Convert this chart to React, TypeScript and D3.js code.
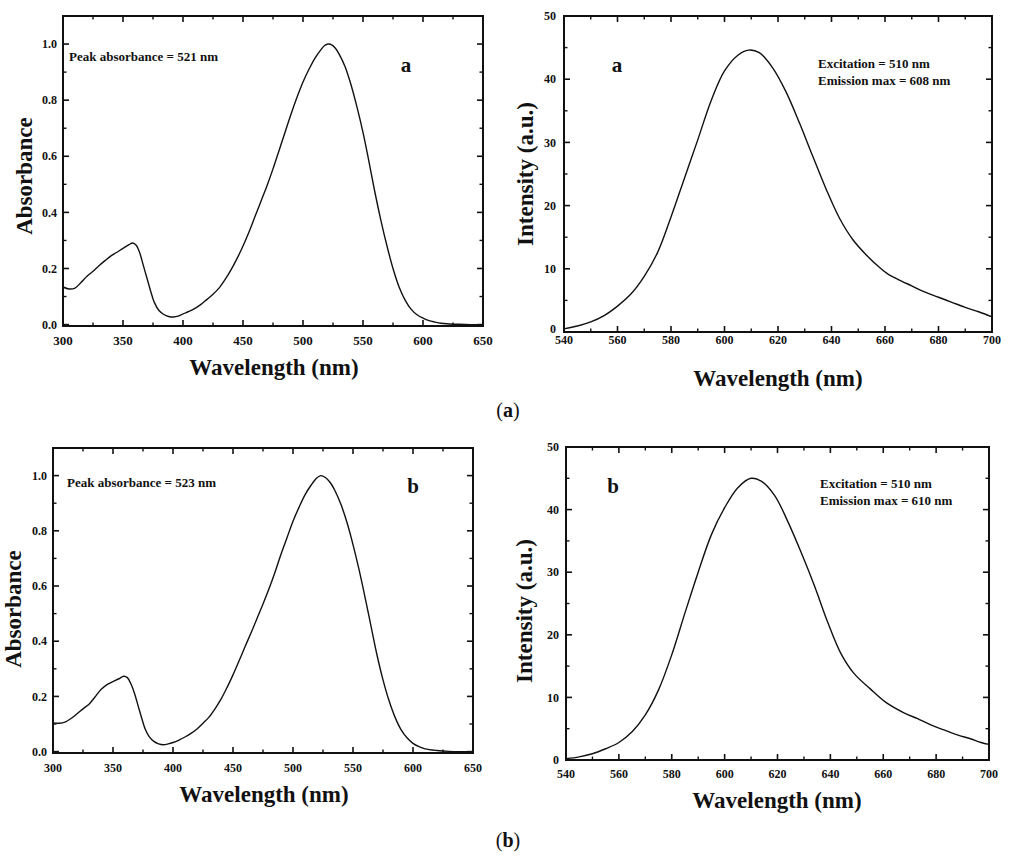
import React from 'react';
import * as d3 from 'd3';

// absorbance spectrum, sample a
const absAWl = [300, 305, 310, 315, 320, 325, 330, 335, 340, 345, 350, 355, 358, 361, 364, 367, 370, 373, 376, 380, 384, 388, 392, 396, 400, 405, 410, 415, 420, 425, 430, 435, 440, 445, 450, 455, 460, 465, 470, 475, 480, 485, 490, 495, 500, 505, 510, 515, 518, 521, 524, 527, 530, 535, 540, 545, 550, 555, 560, 565, 570, 575, 580, 585, 590, 595, 600, 605, 610, 615, 620, 630, 640, 650];
const absAVal = [0.134, 0.127, 0.13, 0.15, 0.172, 0.19, 0.21, 0.228, 0.245, 0.258, 0.272, 0.285, 0.291, 0.283, 0.255, 0.21, 0.165, 0.12, 0.08, 0.05, 0.036, 0.029, 0.027, 0.03, 0.038, 0.047, 0.058, 0.072, 0.09, 0.108, 0.13, 0.16, 0.195, 0.235, 0.28, 0.33, 0.385, 0.44, 0.495, 0.555, 0.62, 0.685, 0.75, 0.81, 0.865, 0.91, 0.95, 0.98, 0.995, 1.0, 0.997, 0.985, 0.965, 0.92, 0.855, 0.775, 0.685, 0.58, 0.47, 0.37, 0.28, 0.2, 0.135, 0.088, 0.055, 0.035, 0.023, 0.014, 0.009, 0.005, 0.003, 0.001, 0.0, 0.0];

// emission spectrum, sample a
const emAWl = [540, 545, 550, 555, 560, 565, 570, 575, 580, 585, 590, 595, 600, 605, 609, 613, 618, 623, 628, 633, 638, 643, 648, 653, 658, 661, 665, 670, 675, 680, 685, 690, 695, 700];
const emAVal = [0.5, 0.95, 1.6, 2.6, 4.1, 6.0, 8.8, 12.6, 18.2, 24.3, 30.4, 36.6, 41.3, 43.8, 44.6, 44.2, 41.8, 38.0, 33.1, 27.8, 22.6, 18.0, 14.6, 12.2, 10.2, 9.2, 8.3, 7.3, 6.3, 5.5, 4.7, 3.9, 3.2, 2.4];

// absorbance spectrum, sample b
const absBWl = [300, 305, 310, 315, 320, 325, 330, 335, 340, 345, 350, 355, 359, 362, 365, 368, 371, 374, 377, 380, 384, 388, 392, 396, 400, 405, 410, 415, 420, 425, 430, 435, 440, 445, 450, 455, 460, 465, 470, 475, 480, 485, 490, 495, 500, 505, 510, 515, 519, 523, 527, 531, 535, 540, 545, 550, 555, 560, 565, 570, 575, 580, 585, 590, 595, 600, 605, 610, 620, 630, 640, 650];
const absBVal = [0.104, 0.103, 0.107, 0.12, 0.137, 0.155, 0.172, 0.198, 0.225, 0.243, 0.254, 0.264, 0.273, 0.268, 0.245, 0.21, 0.165, 0.12, 0.08, 0.055, 0.037, 0.028, 0.025, 0.028, 0.033, 0.042, 0.053, 0.066, 0.082, 0.103, 0.125, 0.155, 0.19, 0.232, 0.278, 0.328, 0.38, 0.43, 0.482, 0.535, 0.59, 0.65, 0.715, 0.775, 0.835, 0.885, 0.93, 0.965, 0.988, 1.0, 0.993, 0.975, 0.945, 0.895, 0.83, 0.75, 0.66, 0.56, 0.455, 0.35, 0.26, 0.185, 0.125, 0.08, 0.05, 0.03, 0.018, 0.01, 0.004, 0.001, 0.0, 0.0];

// emission spectrum, sample b
const emBWl = [540, 545, 550, 555, 560, 565, 570, 575, 580, 585, 590, 595, 600, 605, 610, 614, 619, 624, 629, 634, 639, 644, 649, 655, 661, 668, 673, 678, 683, 688, 693, 697, 700];
const emBVal = [0.2, 0.5, 1.0, 1.8, 2.8, 4.5, 7.2, 11.2, 16.8, 23.5, 30.0, 36.0, 40.3, 43.5, 45.0, 44.5, 42.2, 38.0, 33.1, 27.8, 22.0, 17.0, 13.8, 11.4, 9.2, 7.5, 6.6, 5.6, 4.8, 4.0, 3.4, 2.8, 2.5];

const FONT = "'Liberation Serif', 'Times New Roman', Times, serif";

type PanelProps = {
  left: number; right: number; top: number; bottom: number;
  xDomain: [number, number]; yDomain: [number, number];
  xStep: number; yStep: number; yFmt: string;
  wl: number[]; val: number[];
  yTitle: string; yTitleX: number; yTitleY: number;
  xTitleX: number; xTitleY: number;
  xLabelGap: number; xLabelSize: number; yLabelGap: number;
  letter: string; letterX: number; letterY: number;
  notes: string[]; noteX: number; noteY: number;
};

function Panel(p: PanelProps) {
  const x = d3.scaleLinear().domain(p.xDomain).range([p.left, p.right]);
  const y = d3.scaleLinear().domain(p.yDomain).range([p.bottom, p.top]);
  const xMajor = d3.range(p.xDomain[0], p.xDomain[1] + 1e-6, p.xStep);
  const xMinor = d3.range(p.xDomain[0] + p.xStep / 2, p.xDomain[1], p.xStep);
  const yMajor = d3.range(0, p.yDomain[1] + 1e-6, p.yStep).filter(v => y(v) >= p.top - 0.5);
  const yMinor = d3.range(p.yStep / 2, p.yDomain[1] - 1e-6, p.yStep);
  const fmt = d3.format(p.yFmt);
  const line = d3.line<number>()
    .x((_, i) => x(p.wl[i]))
    .y(d => y(Math.max(d, 0)))
    .curve(d3.curveCatmullRom.alpha(0.5));
  const maj = 6, mnr = 3.5;

  return (
    <g fontFamily={FONT} fontWeight="bold" fill="#111">
      <path d={line(p.val) || ''} fill="none" stroke="#111" strokeWidth={1.4} />
      {xMajor.map(v => (
        <g key={'xM' + v}>
          <line x1={x(v)} x2={x(v)} y1={p.bottom} y2={p.bottom - maj} stroke="#111" strokeWidth={1.6} />
          <line x1={x(v)} x2={x(v)} y1={p.top} y2={p.top + maj} stroke="#111" strokeWidth={1.6} />
          <text x={x(v)} y={p.bottom + p.xLabelGap} textAnchor="middle" fontSize={p.xLabelSize}>{v}</text>
        </g>
      ))}
      {xMinor.map(v => (
        <g key={'xm' + v}>
          <line x1={x(v)} x2={x(v)} y1={p.bottom} y2={p.bottom - mnr} stroke="#111" strokeWidth={1.4} />
          <line x1={x(v)} x2={x(v)} y1={p.top} y2={p.top + mnr} stroke="#111" strokeWidth={1.4} />
        </g>
      ))}
      {yMajor.map(v => (
        <g key={'yM' + v}>
          <line x1={p.left} x2={p.left + maj} y1={y(v)} y2={y(v)} stroke="#111" strokeWidth={1.6} />
          <line x1={p.right} x2={p.right - maj} y1={y(v)} y2={y(v)} stroke="#111" strokeWidth={1.6} />
          <text x={p.left - p.yLabelGap} y={y(v) - (v === 0 && p.xLabelGap < 15 ? 3 : 0)} dy="0.35em" textAnchor="end" fontSize={12}>{fmt(v)}</text>
        </g>
      ))}
      {yMinor.map(v => (
        <g key={'ym' + v}>
          <line x1={p.left} x2={p.left + mnr} y1={y(v)} y2={y(v)} stroke="#111" strokeWidth={1.4} />
          <line x1={p.right} x2={p.right - mnr} y1={y(v)} y2={y(v)} stroke="#111" strokeWidth={1.4} />
        </g>
      ))}
      <rect x={p.left} y={p.top} width={p.right - p.left} height={p.bottom - p.top}
        fill="none" stroke="#111" strokeWidth={2} />
      <text x={p.xTitleX} y={p.xTitleY} textAnchor="middle" fontSize={23}>Wavelength (nm)</text>
      <text transform={`translate(${p.yTitleX},${p.yTitleY}) rotate(-90)`} textAnchor="middle" fontSize={23}>{p.yTitle}</text>
      <text x={p.letterX} y={p.letterY} textAnchor="middle" fontSize={21}>{p.letter}</text>
      {p.notes.map((n, i) => (
        <text key={n} x={p.noteX} y={p.noteY + i * 17} fontSize={13}>{n}</text>
      ))}
    </g>
  );
}

export default function App() {
  return (
    <svg width={1015} height={858} style={{ position: 'absolute', left: 0, top: 0, background: '#fff' }}>
      <Panel left={63} right={483} top={16} bottom={326} xDomain={[300, 650]} yDomain={[-0.005, 1.1]}
        xStep={50} yStep={0.2} yFmt=".1f" wl={absAWl} val={absAVal}
        yTitle="Absorbance" yTitleX={32} yTitleY={176} xTitleX={274} xTitleY={375}
        xLabelGap={19} xLabelSize={13} yLabelGap={6}
        letter="a" letterX={406} letterY={72}
        notes={['Peak absorbance = 521 nm']} noteX={69} noteY={61} />
      <Panel left={564} right={992} top={16} bottom={332} xDomain={[540, 700]} yDomain={[0, 50]}
        xStep={20} yStep={10} yFmt="d" wl={emAWl} val={emAVal}
        yTitle="Intensity (a.u.)" yTitleX={533} yTitleY={174} xTitleX={778} xTitleY={386}
        xLabelGap={12} xLabelSize={12} yLabelGap={8}
        letter="a" letterX={617} letterY={72}
        notes={['Excitation = 510 nm', 'Emission max = 608 nm']} noteX={818} noteY={68} />
      <Panel left={53} right={473} top={448} bottom={753} xDomain={[300, 650]} yDomain={[-0.005, 1.1]}
        xStep={50} yStep={0.2} yFmt=".1f" wl={absBWl} val={absBVal}
        yTitle="Absorbance" yTitleX={21} yTitleY={609} xTitleX={264} xTitleY={802}
        xLabelGap={19} xLabelSize={12} yLabelGap={6}
        letter="b" letterX={413} letterY={493}
        notes={['Peak absorbance = 523 nm']} noteX={67} noteY={487} />
      <Panel left={566} right={989} top={447} bottom={760} xDomain={[540, 700]} yDomain={[0, 50]}
        xStep={20} yStep={10} yFmt="d" wl={emBWl} val={emBVal}
        yTitle="Intensity (a.u.)" yTitleX={532} yTitleY={611} xTitleX={777} xTitleY={808}
        xLabelGap={18} xLabelSize={12} yLabelGap={7}
        letter="b" letterX={613} letterY={493}
        notes={['Excitation = 510 nm', 'Emission max = 610 nm']} noteX={820} noteY={488} />
      <text x={508} y={417} textAnchor="middle" fontSize={20} fontFamily={FONT} fill="#111">
        (<tspan fontWeight="bold">a</tspan>)
      </text>
      <text x={508} y={847} textAnchor="middle" fontSize={20} fontFamily={FONT} fill="#111">
        (<tspan fontWeight="bold">b</tspan>)
      </text>
    </svg>
  );
}
